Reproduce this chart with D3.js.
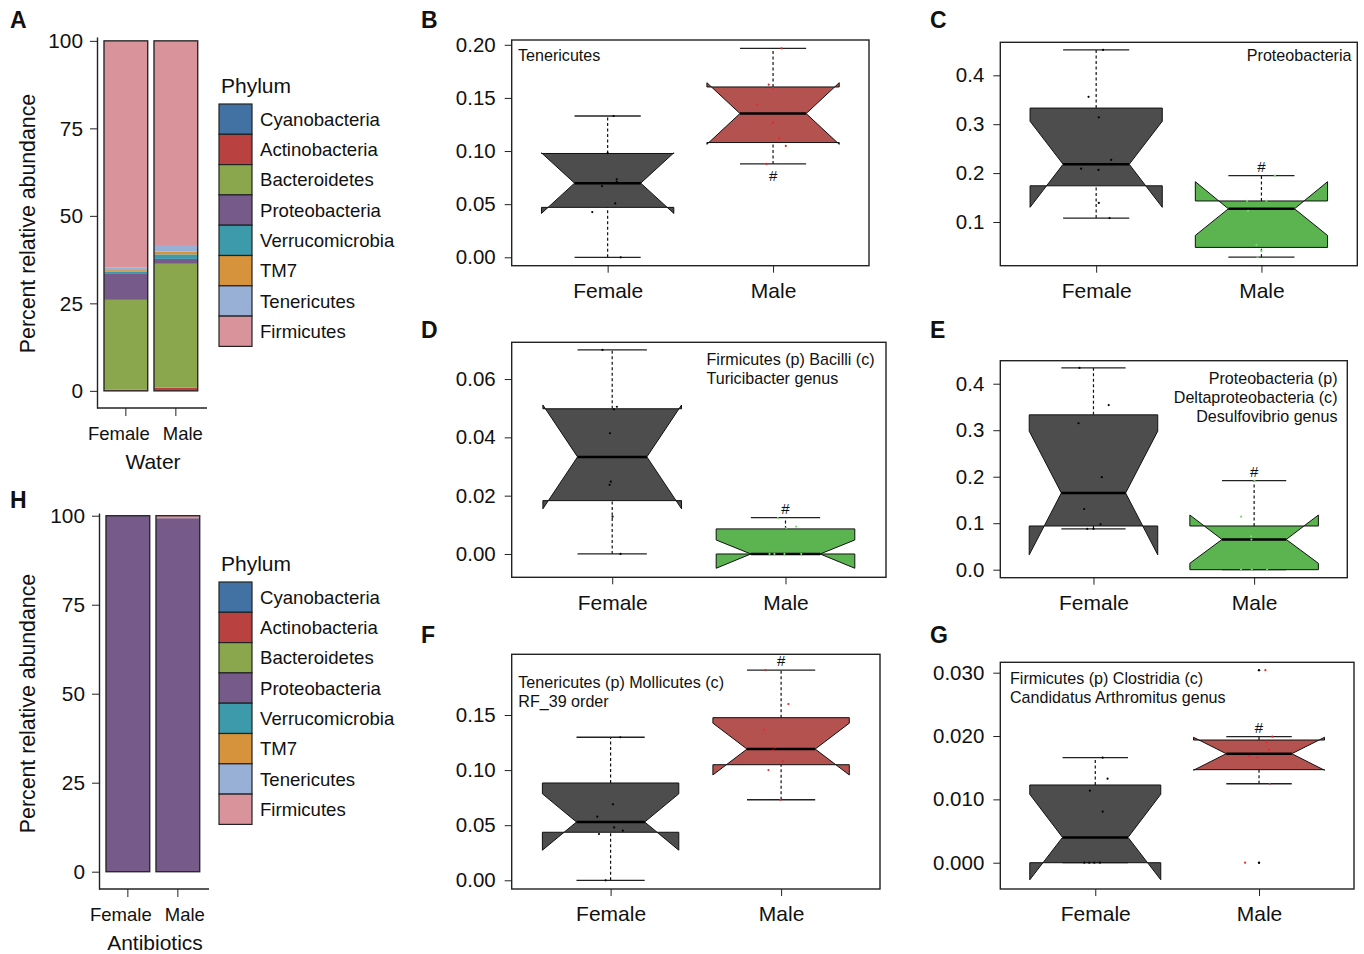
<!DOCTYPE html>
<html>
<head>
<meta charset="utf-8">
<script src="https://cdn.jsdelivr.net/npm/d3@7"></script>
<style>
body { margin: 0; background: #fff; }
text { font-family: "Liberation Sans", Arial, sans-serif; fill: #111; }
</style>
</head>
<body>
<svg id="fig" width="1364" height="954"></svg>
<script>
// ---- stacked bars (A, H) ----
var sexes = ["Female", "Male"];
var phyla = ["Cyanobacteria", "Actinobacteria", "Bacteroidetes", "Proteobacteria",
             "Verrucomicrobia", "TM7", "Tenericutes", "Firmicutes"];
var waterFemale = [0, 0.3, 25.7, 7.4, 0.6, 0.5, 0.7, 64.8];
var waterMale   = [0, 0.9, 35.4, 1.4, 1.3, 0.8, 1.6, 58.6];
var abxFemale   = [0, 0, 0, 100, 0, 0, 0, 0];
var abxMale     = [0, 0, 0, 99.3, 0, 0, 0, 0.7];
var abundanceTicks = [0, 25, 50, 75, 100];

// ---- boxplots: stats = [lower whisker, Q1, median, Q3, upper whisker], notch = [lo, hi] ----
// B  Tenericutes
var tenStats  = [[0.000, 0.047, 0.0698, 0.0977, 0.133], [0.0879, 0.108, 0.1353, 0.1603, 0.1966]];
var tenNotch  = [[0.0413, 0.0983], [0.1063, 0.1643]];
var tenPoints = [[0.133, 0.098, 0.0734, 0.071, 0.067, 0.0507, 0.0426, 0.000],
                 [0.1966, 0.1625, 0.1593, 0.1437, 0.1268, 0.1118, 0.1048, 0.0879]];
var tenJitter = [[0.036, 0, 0.055, 0.055, -0.034, 0.046, -0.093, 0.079],
                 [0.051, -0.026, 0, -0.095, 0, 0.036, 0.077, -0.040]];
var tenTicks  = [0, 0.05, 0.10, 0.15, 0.20];
var tenLabel  = ["Tenericutes"];

// C  Proteobacteria
var proStats  = [[0.108, 0.174, 0.218, 0.333, 0.452], [0.028, 0.048, 0.127, 0.143, 0.1947]];
var proNotch  = [[0.130, 0.306], [0.0725, 0.1824]];
var proPoints = [[0.452, 0.356, 0.314, 0.227, 0.209, 0.2065, 0.139, 0.108],
                 [0.195, 0.143, 0.143, 0.123, 0.053, 0.041, 0.028]];
var proJitter = [[0.042, -0.046, 0.016, 0.091, -0.091, 0.014, 0.016, 0.081],
                 [0.081, -0.087, 0.030, -0.081, -0.030, 0, -0.024]];
var proTicks  = [0.1, 0.2, 0.3, 0.4];
var proLabel  = ["Proteobacteria"];

// D  Turicibacter
var turStats  = [[0, 0.0183, 0.0333, 0.0498, 0.070], [0, 0, 0, 0.0086, 0.0125]];
var turNotch  = [[0.0155, 0.0511], [-0.0049, 0.0048]];
var turPoints = [[0.070, 0.0505, 0.0496, 0.0414, 0.0248, 0.0237, 0.0128, 0],
                 [0.0123, 0.0094, 0.0089, 0, 0, 0, 0]];
var turJitter = [[-0.056, 0.027, 0.010, -0.013, -0.008, -0.015, 0.002, 0.048],
                 [-0.044, 0.062, 0.004, -0.092, -0.064, -0.006, 0.091]];
var turTicks  = [0, 0.02, 0.04, 0.06];
var turLabel  = ["Firmicutes (p) Bacilli (c)", "Turicibacter genus"];

// E  Desulfovibrio
var desStats  = [[0.088, 0.094, 0.165, 0.333, 0.434], [0, 0, 0.065, 0.094, 0.1914]];
var desNotch  = [[0.032, 0.298], [0.0138, 0.1176]];
var desPoints = [[0.434, 0.354, 0.315, 0.199, 0.1305, 0.0976, 0.088, 0.088],
                 [0.191, 0.114, 0.072, 0.065, 0, 0, 0]];
var desJitter = [[-0.087, 0.095, -0.093, 0.052, -0.058, 0.044, -0.039, 0],
                 [0.002, -0.081, -0.019, -0.017, -0.081, -0.015, 0.081]];
var desTicks  = [0, 0.1, 0.2, 0.3, 0.4];
var desLabel  = ["Proteobacteria (p)", "Deltaproteobacteria (c)", "Desulfovibrio genus"];

// F  RF_39
var rfStats  = [[0, 0.0436, 0.0529, 0.0883, 0.1298], [0.0731, 0.1049, 0.1191, 0.1476, 0.1908]];
var rfNotch  = [[0.0273, 0.0785], [0.0956, 0.1426]];
var rfPoints = [[0.1298, 0.069, 0.0577, 0.048, 0.045, 0.042, 0],
                [0.1908, 0.16, 0.1367, 0.1207, 0.1176, 0.108, 0.1001, 0.0731]];
var rfJitter = [[0.057, 0.014, -0.078, 0.021, 0.072, -0.068, -0.029],
                [-0.092, 0.043, -0.098, -0.035, -0.049, 0.010, -0.074, -0.004]];
var rfTicks  = [0, 0.05, 0.10, 0.15];
var rfLabel  = ["Tenericutes (p) Mollicutes (c)", "RF_39 order"];

// G  Candidatus Arthromitus
var artStats    = [[0, 0, 0.0040, 0.01227, 0.01658], [0.01247, 0.01469, 0.01721, 0.01937, 0.0199]];
var artNotch    = [[-0.0027, 0.0108], [0.0146, 0.0198]];
var artPoints   = [[0.01658, 0.01326, 0.01137, 0.00805, 0, 0, 0, 0],
                   [0.0304, 0.0199, 0.0190, 0.01785, 0.0168, 0.01658, 0.01247, 0]];
var artJitter   = [[0.045, 0.075, -0.033, 0.045, -0.067, -0.037, -0.006, 0.028],
                   [0.039, 0.081, 0.047, 0.061, -0.061, -0.010, 0.065, -0.085]];
var artOutliers = [[], [0.0304, 0]];
var artTicks    = [0, 0.010, 0.020, 0.030];
var artLabel    = ["Firmicutes (p) Clostridia (c)", "Candidatus Arthromitus genus"];

// ---- styles ----
var phylaColors = ["#4271a3", "#b9413f", "#8ba74d", "#755a8a", "#3c9aaa", "#d6933c", "#98afd6", "#d8939b"];
var grayFill = "#4d4d4d", redFill = "#b45250", greenFill = "#5bb450";
var dotColor = { gray: "#000", red: "#e32b2b", green: "#7ad870" };

var svg = d3.select("#fig");

function styleAxis(g, size) {
  g.attr("font-family", null).attr("font-size", size).attr("color", "#222");
  g.selectAll("text").attr("fill", "#111");
}

function panelLetter(t, x, y) {
  svg.append("text").attr("x", x).attr("y", y)
     .attr("font-size", 23).attr("font-weight", "bold").text(t);
}

function drawStackPanel(p) {
  var table = sexes.map(function(s, i) {
    var row = { sex: s };
    phyla.forEach(function(ph, j) { row[ph] = p.values[i][j]; });
    return row;
  });
  var series = d3.stack().keys(phyla)(table);

  var x = d3.scaleBand().domain(sexes).range([p.ax, p.ax + 107.7])
            .paddingInner(0.126).paddingOuter(0.14);
  var y = d3.scaleLinear().domain(p.dom).range([p.bottom, p.top]);

  var g = svg.append("g");
  series.forEach(function(s, k) {
    g.selectAll(null).data(s).enter().append("rect")
     .attr("x", function(d) { return x(d.data.sex); })
     .attr("width", x.bandwidth())
     .attr("y", function(d) { return y(d[1]); })
     .attr("height", function(d) { return y(d[0]) - y(d[1]); })
     .attr("fill", phylaColors[k]);
  });
  // bar outlines
  g.selectAll(null).data(table).enter().append("rect")
   .attr("x", function(d) { return x(d.sex); })
   .attr("width", x.bandwidth())
   .attr("y", function(d) { return y(d3.sum(phyla, function(ph) { return d[ph]; })); })
   .attr("height", function(d) { return y(0) - y(d3.sum(phyla, function(ph) { return d[ph]; })); })
   .attr("fill", "none").attr("stroke", "#2a2a2a").attr("stroke-width", 1.4);

  var ya = g.append("g").attr("transform", "translate(" + p.ax + ",0)")
    .call(d3.axisLeft(y).tickValues(abundanceTicks).tickSize(7).tickSizeOuter(0).tickPadding(7));
  styleAxis(ya, 20.8);
  ya.select(".domain").attr("stroke-width", 1.4);

  var xa = g.append("g").attr("transform", "translate(0," + p.bottom + ")")
    .call(d3.axisBottom(x).tickSize(8).tickPadding(11));
  styleAxis(xa, 18.5);
  xa.select(".domain").remove();
  xa.selectAll(".tick text").attr("dx", function(d, i) { return i === 0 ? -7 : 7; });
  g.append("line").attr("x1", p.ax).attr("x2", p.ax + 110)
   .attr("y1", p.bottom).attr("y2", p.bottom)
   .attr("stroke", "#222").attr("stroke-width", 1.4);

  svg.append("text").attr("x", p.ax + 56).attr("y", p.bottom + 61)
     .attr("text-anchor", "middle").attr("font-size", 21).text(p.xTitle);
  svg.append("text")
     .attr("transform", "translate(35," + p.titleY + ") rotate(-90)")
     .attr("text-anchor", "middle").attr("font-size", 21.3).text("Percent relative abundance");

  // legend
  svg.append("text").attr("x", 221).attr("y", p.legY - 11).attr("font-size", 21).text("Phylum");
  var leg = svg.append("g").selectAll(null).data(phyla).enter().append("g")
    .attr("transform", function(d, i) { return "translate(219," + (p.legY + i * 30.3) + ")"; });
  leg.append("rect").attr("width", 33).attr("height", 30.3)
     .attr("fill", function(d, i) { return phylaColors[i]; })
     .attr("stroke", "#222").attr("stroke-width", 1.2);
  leg.append("text").attr("x", 41).attr("y", 15.2).attr("dy", "0.35em")
     .attr("font-size", 18.6).text(function(d) { return d; });

  panelLetter(p.letter, 10, p.letterY);
}

function drawBoxPanel(p) {
  var x = d3.scaleLinear().domain([0.42, 2.58]).range([p.x0, p.x1]);
  var y = d3.scaleLinear().domain(p.dom).range([p.y1, p.y0]);
  var g = svg.append("g");
  var wid = 0.4;

  sexes.forEach(function(s, i) {
    var at = i + 1;
    var st = p.stats[i], nt = p.notch[i];
    var fill = i === 0 ? grayFill : p.maleFill;
    var dc = i === 0 ? dotColor.gray : dotColor[p.maleDots];

    // whiskers
    [[st[0], st[1]], [st[3], st[4]]].forEach(function(w) {
      g.append("line").attr("x1", x(at)).attr("x2", x(at))
       .attr("y1", y(w[0])).attr("y2", y(w[1]))
       .attr("stroke", "#111").attr("stroke-width", 1.2).attr("stroke-dasharray", "3,2.5");
    });
    // staples
    [st[0], st[4]].forEach(function(v) {
      g.append("line").attr("x1", x(at - wid / 2)).attr("x2", x(at + wid / 2))
       .attr("y1", y(v)).attr("y2", y(v))
       .attr("stroke", "#222").attr("stroke-width", 1.3);
    });
    // notched box (R bxp polygon)
    var xx = [-1, 1, 1, 0.5, 1, 1, -1, -1, -0.5, -1].map(function(f) { return x(at + wid * f); });
    var yy = [st[1], st[1], nt[0], st[2], nt[1], st[3], st[3], nt[1], st[2], nt[0]].map(y);
    g.append("polygon")
     .attr("points", xx.map(function(v, k) { return v + "," + yy[k]; }).join(" "))
     .attr("fill", fill).attr("stroke", "#111").attr("stroke-width", 1);
    // median
    g.append("line").attr("x1", x(at - wid / 2)).attr("x2", x(at + wid / 2))
     .attr("y1", y(st[2])).attr("y2", y(st[2]))
     .attr("stroke", "#000").attr("stroke-width", 2.5);
    // outliers
    if (p.outliers) {
      g.selectAll(null).data(p.outliers[i]).enter().append("circle")
       .attr("cx", x(at)).attr("cy", function(d) { return y(d); })
       .attr("r", 1.2).attr("fill", "#000");
    }
    // jittered samples
    g.selectAll(null).data(p.points[i]).enter().append("circle")
     .attr("cx", function(d, k) { return x(at + p.jitter[i][k]); })
     .attr("cy", function(d) { return y(d); })
     .attr("r", 1.1).attr("fill", dc);
  });

  // significance mark on Male
  var m = p.stats[1];
  g.append("text").attr("x", x(2)).attr("text-anchor", "middle").attr("font-size", 15)
   .attr("y", p.sigBelow ? y(m[0]) + 17 : y(m[4]) - 4).text("#");

  g.append("rect").attr("x", p.x0).attr("y", p.y0)
   .attr("width", p.x1 - p.x0).attr("height", p.y1 - p.y0)
   .attr("fill", "none").attr("stroke", "#222").attr("stroke-width", 1.4);

  var ya = g.append("g").attr("transform", "translate(" + p.x0 + ",0)")
    .call(d3.axisLeft(y).tickValues(p.ticks).tickFormat(d3.format(p.fmt)).tickSize(7).tickPadding(9));
  styleAxis(ya, 20.5);
  ya.select(".domain").remove();

  var xa = g.append("g").attr("transform", "translate(0," + p.y1 + ")")
    .call(d3.axisBottom(x).tickValues([1, 2]).tickFormat(function(d) { return sexes[d - 1]; })
          .tickSize(7).tickPadding(10.5));
  styleAxis(xa, 21);
  xa.select(".domain").remove();

  g.selectAll(null).data(p.label).enter().append("text")
   .attr("x", p.lx).attr("y", function(d, k) { return p.ly + k * 19; })
   .attr("text-anchor", p.anchor).attr("font-size", 16.1).text(function(d) { return d; });

  panelLetter(p.letter, p.letterX, p.letterY);
}

drawStackPanel({ values: [waterFemale, waterMale], ax: 97, top: 37, bottom: 408, dom: [-4.9, 101.1],
                 xTitle: "Water", titleY: 223.5, legY: 104, letter: "A", letterY: 28 });
drawStackPanel({ values: [abxFemale, abxMale], ax: 99, top: 513, bottom: 889, dom: [-4.86, 100.76],
                 xTitle: "Antibiotics", titleY: 703.5, legY: 582, letter: "H", letterY: 508 });

var boxPanels = [
  { letter: "B", stats: tenStats, notch: tenNotch, points: tenPoints, jitter: tenJitter, ticks: tenTicks, fmt: ".2f",
    label: tenLabel, x0: 511.7, x1: 869, y0: 40, y1: 265.7, dom: [-0.0079, 0.2045],
    maleFill: redFill, maleDots: "red", sigBelow: true, lx: 518, ly: 61, anchor: "start", letterX: 421, letterY: 28 },
  { letter: "C", stats: proStats, notch: proNotch, points: proPoints, jitter: proJitter, ticks: proTicks, fmt: ".1f",
    label: proLabel, x0: 1000.3, x1: 1357.3, y0: 42.3, y1: 265.7, dom: [0.0106, 0.4675],
    maleFill: greenFill, maleDots: "green", sigBelow: false, lx: 1351.5, ly: 61, anchor: "end", letterX: 930, letterY: 28 },
  { letter: "D", stats: turStats, notch: turNotch, points: turPoints, jitter: turJitter, ticks: turTicks, fmt: ".2f",
    label: turLabel, x0: 511.7, x1: 886, y0: 342.3, y1: 577.3, dom: [-0.0080, 0.0726],
    maleFill: greenFill, maleDots: "green", sigBelow: false, lx: 706.5, ly: 365, anchor: "start", letterX: 421, letterY: 338 },
  { letter: "E", stats: desStats, notch: desNotch, points: desPoints, jitter: desJitter, ticks: desTicks, fmt: ".1f",
    label: desLabel, x0: 1000.3, x1: 1347.3, y0: 360.7, y1: 577.7, dom: [-0.0172, 0.4495],
    maleFill: greenFill, maleDots: "green", sigBelow: false, lx: 1337.5, ly: 383.5, anchor: "end", letterX: 930, letterY: 338 },
  { letter: "F", stats: rfStats, notch: rfNotch, points: rfPoints, jitter: rfJitter, ticks: rfTicks, fmt: ".2f",
    label: rfLabel, x0: 511.7, x1: 880, y0: 654.3, y1: 889, dom: [-0.0079, 0.2051],
    maleFill: redFill, maleDots: "red", sigBelow: false, lx: 518.3, ly: 688.3, anchor: "start", letterX: 421, letterY: 643 },
  { letter: "G", stats: artStats, notch: artNotch, points: artPoints, jitter: artJitter, outliers: artOutliers,
    ticks: artTicks, fmt: ".3f",
    label: artLabel, x0: 1000.3, x1: 1354, y0: 662.3, y1: 889, dom: [-0.00415, 0.03164],
    maleFill: redFill, maleDots: "red", sigBelow: false, lx: 1010, ly: 684, anchor: "start", letterX: 930, letterY: 643 }
];
boxPanels.forEach(drawBoxPanel);
</script>
</body>
</html>
